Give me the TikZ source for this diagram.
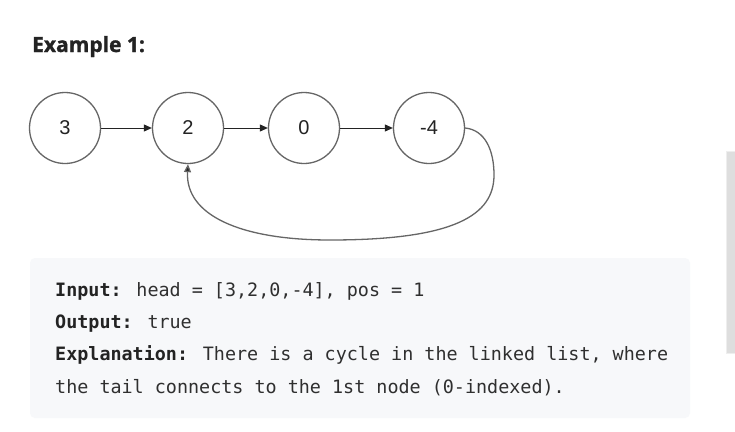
\documentclass[tikz,border=0pt]{standalone}
\usepackage{fontspec}
\usetikzlibrary{arrows.meta}
\setmainfont{Liberation Sans}
\newfontfamily\titlefont[BoldFont={Open Sans Bold}, BoldFeatures={FakeBold=1.2}]{Open Sans}
\newfontfamily\codefont{DejaVu Sans Mono}
\definecolor{ink}{HTML}{232323}
\definecolor{codeink}{HTML}{2F2F2F}
\definecolor{ring}{HTML}{666666}
\definecolor{panel}{HTML}{F7F8FA}
\definecolor{barfill}{HTML}{DEDEDE}
\definecolor{barline}{HTML}{EEEEEE}
\tikzset{
  listnode/.style={circle, draw=ring, line width=1.3pt, minimum size=71pt, inner sep=0pt,
    text=ink, font=\fontsize{20}{24}\selectfont},
  link/.style={draw=ink, line width=0.9pt, -{Triangle[length=8pt,width=7pt]}},
  backlink/.style={draw=ring, line width=1.3pt, -{Triangle[length=8pt,width=7pt,fill=ink]}},
  codeline/.style={anchor=base west, inner sep=0pt, text=codeink,
    font=\codefont\fontsize{18.4}{22}\selectfont},
}
\begin{document}
\begin{tikzpicture}[x=1pt, y=-1pt]
  \useasboundingbox (0,0) rectangle (735,431);
  \fill[white] (0,0) rectangle (735,431);

  % heading
  \node[anchor=base west, inner sep=0pt, text=ink,
        font=\titlefont\bfseries\fontsize{21}{25}\selectfont] (title) at (32,52) {Example 1:};

  % linked list nodes
  \node[listnode] (n3) at (65,128) {3};
  \node[listnode] (n2) at (188,128) {2};
  \node[listnode] (n0) at (304,128) {0};
  \node[listnode] (n4) at (429,128) {-4};

  \draw[link] (n3) -- (n2);
  \draw[link] (n2) -- (n0);
  \draw[link] (n0) -- (n4);

  % tail points back to node 2
  \coordinate (c1) at (494,175);
  \coordinate (c2) at (330,240);
  \draw[backlink] (n4.east) .. controls (485,130) and (494,150) .. (c1)
        .. controls (494,215) and (455,240) .. (c2)
        .. controls (240,240) and (185,215) .. (n2.south);

  % code panel
  \fill[panel, rounded corners=5pt] (30,258) rectangle (690,418);
  \node[codeline] (l1) at (55,296) {\textbf{\color{ink}Input:} head = [3,2,0,-4], pos = 1};
  \node[codeline] (l2) at (55,328) {\textbf{\color{ink}Output:} true};
  \node[codeline] (l3) at (55,360) {\textbf{\color{ink}Explanation:} There is a cycle in the linked list, where};
  \node[codeline] (l4) at (55,393) {the tail connects to the 1st node (0-indexed).};

  % scroll bar
  \filldraw[fill=barfill, draw=barline, line width=1pt] (726,151) rectangle (737,353);
\end{tikzpicture}
\end{document}
